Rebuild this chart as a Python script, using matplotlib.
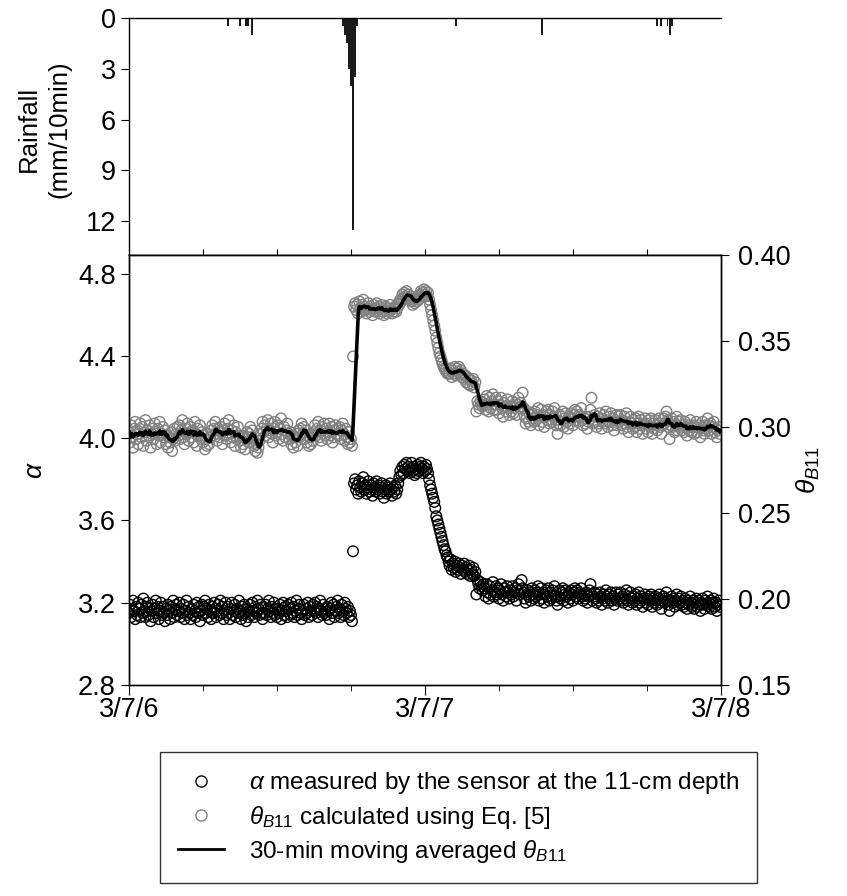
import matplotlib
matplotlib.use('Agg')
import matplotlib.pyplot as plt
from matplotlib.lines import Line2D
import pandas as pd

plt.rcParams['font.family'] = ['Liberation Sans', 'DejaVu Sans']
plt.rcParams['mathtext.fontset'] = 'custom'
plt.rcParams['mathtext.rm'] = 'Liberation Sans'
plt.rcParams['mathtext.it'] = 'Liberation Sans:italic'

# 5-min sensor readings starting 3/7/6 00:00
start = '2003-07-06 00:00'
end = '2003-07-08 00:00'

alpha = [
    # before the storm
    3.15, 3.19, 3.13, 3.17, 3.21, 3.16, 3.12, 3.18, 3.14, 3.20, 3.17, 3.13,
    3.19, 3.15, 3.22, 3.16, 3.13, 3.18, 3.20, 3.14, 3.17, 3.11, 3.16, 3.19,
    3.13, 3.17, 3.21, 3.15, 3.18, 3.12, 3.16, 3.20, 3.14, 3.18, 3.15, 3.11,
    3.17, 3.14, 3.19, 3.16, 3.12, 3.18, 3.15, 3.21, 3.13, 3.17, 3.19, 3.14,
    3.16, 3.20, 3.13, 3.17, 3.15, 3.19, 3.12, 3.16, 3.21, 3.14, 3.18, 3.15,
    3.12, 3.17, 3.14, 3.19, 3.16, 3.13, 3.20, 3.15, 3.18, 3.11, 3.16, 3.19,
    3.14, 3.18, 3.21, 3.15, 3.17, 3.13, 3.19, 3.16, 3.12, 3.18, 3.15, 3.20,
    3.17, 3.13, 3.16, 3.19, 3.14, 3.21, 3.15, 3.18, 3.12, 3.16, 3.20, 3.14,
    3.18, 3.15, 3.12, 3.17, 3.20, 3.14, 3.16, 3.19, 3.13, 3.17, 3.15, 3.21,
    3.16, 3.12, 3.18, 3.14, 3.19, 3.15, 3.11, 3.17, 3.13, 3.16, 3.19, 3.14,
    3.20, 3.16, 3.13, 3.18, 3.15, 3.21, 3.17, 3.14, 3.19, 3.15, 3.12, 3.18,
    3.15, 3.19, 3.14, 3.17, 3.21, 3.16, 3.13, 3.18, 3.15, 3.20, 3.14, 3.17,
    3.13, 3.17, 3.15, 3.19, 3.12, 3.16, 3.20, 3.14, 3.18, 3.16, 3.13, 3.19,
    3.17, 3.14, 3.20, 3.15, 3.18, 3.13, 3.16, 3.21, 3.14, 3.17, 3.19, 3.15,
    3.12, 3.16, 3.19, 3.14, 3.17, 3.15, 3.20, 3.13, 3.18, 3.16, 3.14, 3.19,
    3.16, 3.20, 3.15, 3.18, 3.13, 3.17, 3.21, 3.16, 3.14, 3.19, 3.15, 3.17,
    3.14, 3.18, 3.16, 3.12, 3.17, 3.20, 3.15, 3.19, 3.13, 3.16, 3.18, 3.21,
    3.15, 3.17, 3.13, 3.19, 3.16, 3.14, 3.20, 3.17, 3.15, 3.18, 3.13, 3.16,
    3.14, 3.11,
    # first reading after the burst
    3.45,
    # wet plateau
    3.78, 3.80, 3.75, 3.77, 3.73, 3.79, 3.76, 3.74, 3.78, 3.81, 3.75, 3.77,
    3.73, 3.76, 3.79, 3.74, 3.77, 3.75, 3.72, 3.78, 3.76, 3.74, 3.79, 3.75,
    3.77, 3.73, 3.76, 3.78, 3.74, 3.71, 3.75, 3.77, 3.73, 3.76, 3.74, 3.78,
    3.75, 3.72, 3.76, 3.74, 3.77, 3.73, 3.75, 3.78,
    3.81, 3.84, 3.82, 3.86, 3.83, 3.87, 3.85, 3.88, 3.84, 3.86,
    3.83, 3.85, 3.88, 3.84, 3.86, 3.82, 3.85, 3.83, 3.87, 3.84,
    3.86, 3.88, 3.85, 3.83, 3.86, 3.84, 3.87, 3.85, 3.83,
    # drainage
    3.80, 3.77, 3.75, 3.73, 3.71, 3.69, 3.66, 3.62, 3.60, 3.58,
    3.56, 3.54, 3.52, 3.50, 3.48, 3.46, 3.45, 3.43, 3.42, 3.40,
    3.38, 3.41, 3.36, 3.39, 3.37, 3.40, 3.35, 3.38, 3.36, 3.39,
    3.37, 3.34, 3.38, 3.36, 3.39, 3.35, 3.37, 3.34, 3.36, 3.38,
    3.33, 3.36, 3.34, 3.37, 3.33, 3.35,
    3.24, 3.31, 3.29, 3.27, 3.30, 3.28, 3.26, 3.29,
    # slow recession
    3.27, 3.23, 3.29, 3.25, 3.22, 3.28, 3.24, 3.26, 3.30, 3.23, 3.25, 3.28,
    3.24, 3.27, 3.22, 3.26, 3.29, 3.24, 3.21, 3.27, 3.25, 3.23, 3.28, 3.25,
    3.22, 3.26, 3.24, 3.28, 3.23, 3.25, 3.27, 3.21, 3.26, 3.29, 3.24, 3.26,
    3.31, 3.27, 3.25, 3.22, 3.20, 3.24, 3.26, 3.23, 3.25, 3.21, 3.27, 3.24,
    3.22, 3.26, 3.23, 3.25, 3.28, 3.21, 3.24, 3.27, 3.22, 3.25, 3.20, 3.24,
    3.26, 3.23, 3.27, 3.21, 3.25, 3.22, 3.26, 3.24, 3.28, 3.23, 3.21, 3.19,
    3.23, 3.26, 3.22, 3.25, 3.27, 3.21, 3.24, 3.26, 3.23, 3.20, 3.25, 3.22,
    3.26, 3.24, 3.21, 3.25, 3.27, 3.23, 3.26, 3.22, 3.25, 3.24, 3.27, 3.23,
    3.21, 3.24, 3.22, 3.25, 3.20, 3.23, 3.26, 3.29, 3.24, 3.21, 3.23, 3.25,
    3.22, 3.20, 3.24, 3.21, 3.25, 3.23, 3.19, 3.22, 3.24, 3.21, 3.26, 3.23,
    3.20, 3.24, 3.22, 3.25, 3.21, 3.23, 3.19, 3.22, 3.25, 3.21, 3.24, 3.22,
    3.25, 3.21, 3.23, 3.20, 3.24, 3.22, 3.26, 3.21, 3.19, 3.23, 3.25, 3.22,
    3.20, 3.23, 3.21, 3.24, 3.19, 3.22, 3.25, 3.20, 3.23, 3.21, 3.18, 3.22,
    3.24, 3.20, 3.22, 3.19, 3.23, 3.21, 3.24, 3.18, 3.22, 3.20, 3.23, 3.21,
    3.19, 3.22, 3.24, 3.20, 3.17, 3.21, 3.23, 3.20, 3.22, 3.25, 3.21, 3.19,
    3.16, 3.21, 3.23, 3.20, 3.22, 3.18, 3.21, 3.24, 3.19, 3.22, 3.20, 3.23,
    3.19, 3.21, 3.18, 3.22, 3.20, 3.17, 3.21, 3.19, 3.23, 3.20, 3.18, 3.21,
    3.17, 3.20, 3.22, 3.18, 3.21, 3.19, 3.16, 3.20, 3.22, 3.19, 3.17, 3.21,
    3.19, 3.23, 3.20, 3.18, 3.21, 3.17, 3.20, 3.22, 3.18, 3.20, 3.16, 3.19,
    3.21, 3.18,
]

theta = [
    0.297, 0.291, 0.301, 0.294, 0.288, 0.299, 0.303, 0.293, 0.298, 0.290, 0.296, 0.302,
    0.294, 0.300, 0.289, 0.297, 0.304, 0.292, 0.298, 0.295, 0.301, 0.288, 0.296, 0.299,
    0.293, 0.302, 0.297, 0.290, 0.299, 0.295, 0.303, 0.291, 0.296, 0.300, 0.294, 0.298,
    0.290, 0.295, 0.288, 0.294, 0.291, 0.297, 0.286, 0.293, 0.299, 0.292, 0.296, 0.300,
    0.295, 0.301, 0.293, 0.298, 0.304, 0.294, 0.290, 0.299, 0.296, 0.302, 0.292, 0.297,
    0.300, 0.294, 0.298, 0.291, 0.303, 0.296, 0.289, 0.299, 0.295, 0.301, 0.293, 0.297,
    0.291, 0.295, 0.287, 0.293, 0.289, 0.296, 0.290, 0.294, 0.298, 0.301, 0.295, 0.299,
    0.303, 0.296, 0.292, 0.299, 0.294, 0.300, 0.297, 0.290, 0.298, 0.302, 0.295, 0.293,
    0.299, 0.304, 0.296, 0.291, 0.298, 0.294, 0.301, 0.289, 0.297, 0.293, 0.300, 0.295,
    0.292, 0.288, 0.295, 0.290, 0.294, 0.287, 0.293, 0.297, 0.291, 0.296, 0.300, 0.294,
    0.298, 0.293, 0.289, 0.286, 0.290, 0.285, 0.288, 0.292, 0.296, 0.299, 0.303, 0.297,
    0.301, 0.295, 0.299, 0.304, 0.294, 0.298, 0.302, 0.296, 0.291, 0.299, 0.303, 0.295,
    0.297, 0.301, 0.293, 0.299, 0.305, 0.296, 0.292, 0.300, 0.294, 0.298, 0.302, 0.296,
    0.293, 0.297, 0.290, 0.295, 0.288, 0.294, 0.291, 0.296, 0.289, 0.298, 0.294, 0.299,
    0.302, 0.296, 0.300, 0.293, 0.298, 0.291, 0.295, 0.289, 0.294, 0.290, 0.296, 0.292,
    0.297, 0.301, 0.295, 0.299, 0.303, 0.294, 0.298, 0.292, 0.300, 0.296, 0.302, 0.295,
    0.299, 0.293, 0.297, 0.302, 0.295, 0.300, 0.291, 0.298, 0.294, 0.301, 0.296, 0.299,
    0.295, 0.300, 0.293, 0.298, 0.302, 0.296, 0.292, 0.299, 0.294, 0.290, 0.297, 0.291,
    0.293, 0.289,
    0.341,
    0.370, 0.372, 0.368, 0.371, 0.366, 0.373, 0.369, 0.367, 0.371, 0.374, 0.368, 0.370,
    0.366, 0.369, 0.372, 0.367, 0.370, 0.368, 0.365, 0.371, 0.369, 0.367, 0.372, 0.368,
    0.370, 0.366, 0.369, 0.371, 0.367, 0.365, 0.368, 0.370, 0.366, 0.369, 0.367, 0.371,
    0.368, 0.366, 0.369, 0.367, 0.370, 0.367, 0.369, 0.372,
    0.371, 0.374, 0.373, 0.377, 0.375, 0.378, 0.376, 0.379, 0.375, 0.377,
    0.374, 0.376, 0.373, 0.371, 0.374, 0.372, 0.375, 0.373, 0.376, 0.374,
    0.377, 0.379, 0.376, 0.378, 0.380, 0.377, 0.379, 0.376, 0.378,
    0.374, 0.371, 0.368, 0.365, 0.362, 0.359, 0.356, 0.352, 0.349, 0.346,
    0.343, 0.341, 0.339, 0.337, 0.335, 0.334, 0.333, 0.332, 0.331, 0.331,
    0.331, 0.334, 0.329, 0.333, 0.331, 0.335, 0.330, 0.334, 0.332, 0.335,
    0.331, 0.333, 0.329, 0.331, 0.328, 0.330, 0.326, 0.329, 0.325, 0.328,
    0.324, 0.327, 0.325, 0.328, 0.323, 0.326,
    0.309, 0.315, 0.313, 0.311, 0.315, 0.313, 0.312, 0.314,
    0.316, 0.310, 0.318, 0.313, 0.309, 0.317, 0.311, 0.315, 0.319, 0.310, 0.313, 0.317,
    0.310, 0.315, 0.308, 0.313, 0.317, 0.311, 0.306, 0.314, 0.312, 0.309, 0.316, 0.311,
    0.307, 0.312, 0.309, 0.315, 0.308, 0.311, 0.314, 0.307, 0.313, 0.317, 0.311, 0.314,
    0.312, 0.320, 0.311, 0.306, 0.302, 0.305, 0.309, 0.303, 0.307, 0.301, 0.308, 0.305,
    0.303, 0.309, 0.304, 0.307, 0.311, 0.301, 0.306, 0.310, 0.303, 0.307, 0.300, 0.306,
    0.309, 0.304, 0.310, 0.302, 0.307, 0.303, 0.309, 0.306, 0.311, 0.304, 0.301, 0.296,
    0.302, 0.307, 0.301, 0.306, 0.309, 0.300, 0.305, 0.308, 0.303, 0.299, 0.306, 0.302,
    0.308, 0.305, 0.301, 0.307, 0.310, 0.304, 0.309, 0.303, 0.307, 0.306, 0.311, 0.304,
    0.301, 0.305, 0.302, 0.306, 0.299, 0.303, 0.306, 0.310, 0.317, 0.302, 0.304, 0.307,
    0.303, 0.300, 0.306, 0.302, 0.308, 0.305, 0.299, 0.303, 0.307, 0.302, 0.309, 0.304,
    0.300, 0.306, 0.303, 0.308, 0.301, 0.305, 0.298, 0.303, 0.307, 0.301, 0.306, 0.303,
    0.307, 0.301, 0.304, 0.299, 0.306, 0.302, 0.308, 0.300, 0.297, 0.303, 0.306, 0.302,
    0.299, 0.304, 0.300, 0.305, 0.297, 0.302, 0.306, 0.299, 0.304, 0.301, 0.296, 0.302,
    0.305, 0.299, 0.302, 0.297, 0.304, 0.300, 0.305, 0.296, 0.302, 0.299, 0.304, 0.301,
    0.298, 0.302, 0.305, 0.300, 0.296, 0.301, 0.305, 0.302, 0.306, 0.309, 0.304, 0.300,
    0.293, 0.301, 0.305, 0.300, 0.303, 0.297, 0.301, 0.306, 0.298, 0.303, 0.300, 0.304,
    0.298, 0.301, 0.297, 0.303, 0.300, 0.295, 0.301, 0.298, 0.304, 0.300, 0.297, 0.301,
    0.296, 0.300, 0.303, 0.297, 0.301, 0.299, 0.294, 0.300, 0.303, 0.298, 0.296, 0.301,
    0.299, 0.305, 0.301, 0.298, 0.302, 0.296, 0.300, 0.303, 0.297, 0.299, 0.294, 0.298,
    0.300, 0.296,
]

rain_time = [
    '2003-07-06 08:00', '2003-07-06 09:00', '2003-07-06 09:30', '2003-07-06 09:40',
    '2003-07-06 10:00', '2003-07-06 17:20', '2003-07-06 17:30', '2003-07-06 17:40',
    '2003-07-06 17:50', '2003-07-06 18:00', '2003-07-06 18:10', '2003-07-06 18:20',
    '2003-07-06 18:30', '2003-07-07 02:30', '2003-07-07 09:30', '2003-07-07 18:50',
    '2003-07-07 19:10', '2003-07-07 19:40', '2003-07-07 19:50', '2003-07-07 20:00',
]
rain_mm = [0.5, 0.5, 0.5, 0.5, 1.0, 0.5, 1.0, 1.5, 3.0, 4.0, 12.5, 3.5, 0.5,
           0.5, 1.0, 0.5, 0.5, 0.5, 1.0, 0.5]

day_ticks = ['2003-07-06', '2003-07-07', '2003-07-08']
day_labels = ['3/7/6', '3/7/7', '3/7/8']

t = pd.date_range(start, periods=len(alpha), freq='5min')
theta_ma = pd.Series(theta).rolling(6, min_periods=1).mean()   # 30 min
t0, t1 = pd.Timestamp(start), pd.Timestamp(end)
six_hours = pd.date_range(t0, t1, freq='6h')

TICK = 19.5

fig = plt.figure(figsize=(8.47, 8.96), dpi=100)
ax_r = fig.add_axes([0.1523, 0.7154, 0.6989, 0.2645])
ax = fig.add_axes([0.1523, 0.2355, 0.6989, 0.4799])
ax2 = ax.twinx()

# rainfall panel, bars hanging from the top
ax_r.bar(pd.to_datetime(rain_time), rain_mm, width=9 / 1440, color='#1a1a1a', align='center')
ax_r.set_xlim(t0, t1)
ax_r.set_ylim(14, 0)
ax_r.set_yticks([0, 3, 6, 9, 12])
ax_r.set_xticks(six_hours[1:-1])
ax_r.tick_params(axis='x', direction='in', length=4, labelbottom=False)
ax_r.tick_params(axis='y', direction='out', length=6, labelsize=TICK)
ax_r.spines['right'].set_visible(False)
ax_r.set_ylabel('Rainfall\n(mm/10min)', fontsize=18.5, ha='center', linespacing=1.35)
ax_r.yaxis.set_label_coords(-0.097, 0.53)

# alpha and theta panel
ax.scatter(t, alpha, s=58, facecolors='none', edgecolors='black', linewidths=1.0, zorder=3)
ax2.scatter(t, theta, s=58, facecolors='none', edgecolors='#808080', linewidths=1.0, zorder=2)
ax2.plot(t, theta_ma, color='black', lw=2.6, zorder=4)

ax.set_xlim(t0, t1)
ax.set_ylim(2.8, 4.89)
ax.set_yticks([2.8, 3.2, 3.6, 4.0, 4.4, 4.8])
ax.yaxis.set_major_formatter(plt.FormatStrFormatter('%.1f'))
ax2.set_ylim(0.15, 0.40)
ax2.set_yticks([0.15, 0.20, 0.25, 0.30, 0.35, 0.40])
ax2.yaxis.set_major_formatter(plt.FormatStrFormatter('%.2f'))

ax.set_xticks(pd.to_datetime(day_ticks))
ax.set_xticklabels(day_labels)
ax.set_xticks(six_hours, minor=True)
ax.tick_params(axis='x', which='major', direction='out', length=7, labelsize=TICK, pad=2)
ax.tick_params(axis='x', which='minor', direction='out', length=4)
ax.tick_params(axis='y', direction='out', length=6, labelsize=TICK)
ax2.tick_params(axis='y', direction='out', length=6, labelsize=TICK, pad=6)

ax.set_ylabel(r'$\alpha$', fontsize=19)
ax.yaxis.set_label_coords(-0.138, 0.5)
ax2.set_ylabel(r'$\theta_{B11}$', fontsize=19)
ax2.yaxis.set_label_coords(1.125, 0.5)

for a in (ax_r, ax, ax2):
    for s in a.spines.values():
        s.set_linewidth(1.0)

handles = [
    Line2D([], [], marker='o', ls='none', mfc='none', mec='black', ms=8, mew=1.0),
    Line2D([], [], marker='o', ls='none', mfc='none', mec='#808080', ms=8, mew=1.0),
    Line2D([], [], color='black', lw=2.0),
]
labels = [
    r'$\alpha$ measured by the sensor at the 11-cm depth',
    r'$\theta_{B11}$ calculated using Eq. [5]',
    r'30-min moving averaged $\theta_{B11}$',
]
leg = fig.legend(handles, labels, loc='upper left', bbox_to_anchor=(160 / 847, 1 - 752 / 896),
                 fontsize=17.5, frameon=True, fancybox=False, edgecolor='black',
                 borderpad=0.75, borderaxespad=0, labelspacing=0.3,
                 handlelength=1.9, handletextpad=1.0)
leg.get_frame().set_linewidth(1.0)

fig.savefig('out.png', dpi=100)
